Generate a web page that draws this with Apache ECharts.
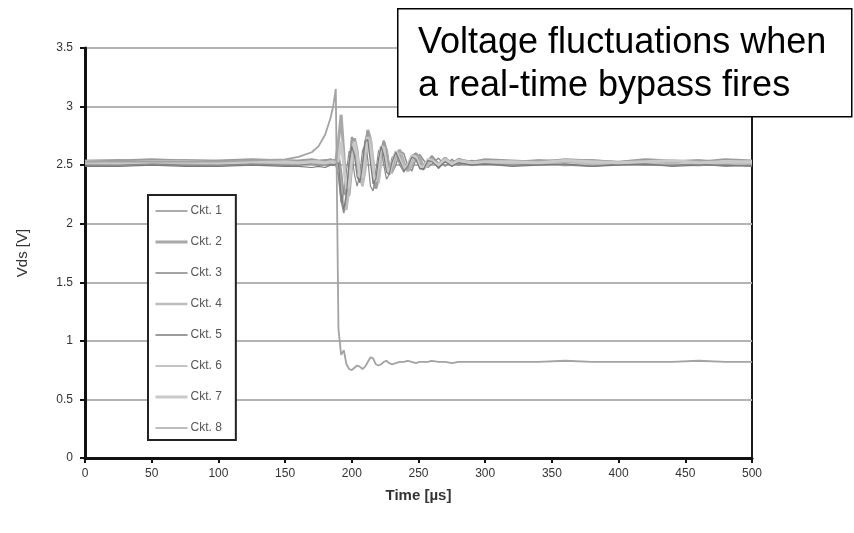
<!DOCTYPE html>
<html><head><meta charset="utf-8">
<script src="https://cdn.jsdelivr.net/npm/echarts@6/dist/echarts.min.js"></script>
<style>html,body{margin:0;padding:0;background:#fff}#c{width:854px;height:533px}</style>
</head><body><div id="c"></div>
<script>
const times = [0,25,50,75,100,125,150,160,170,175,180,184,186,188,
190,192,194,196,198,200,202,204,206,208,210,212,214,216,218,220,222,224,226,228,230,
233,236,239,242,245,248,251,254,257,260,
265,270,275,280,290,300,
320,340,360,380,400,420,440,460,480,500];

const ckt1 = [2.52,2.53,2.52,2.52,2.53,2.52,2.52,2.53,2.52,2.52,2.53,2.52,2.52,2.53,
2.45,2.2,2.09,2.2,2.5,2.7,2.68,2.5,2.38,2.45,2.65,2.76,2.66,2.45,2.33,2.4,2.58,2.68,2.64,2.5,2.43,
2.5,2.62,2.6,2.49,2.45,2.55,2.59,2.54,2.48,2.51,
2.56,2.49,2.55,2.5,2.54,2.51,
2.53,2.51,2.54,2.52,2.53,2.51,2.53,2.52,2.53,2.52];
const ckt2 = [2.53,2.54,2.53,2.54,2.53,2.54,2.54,2.53,2.54,2.53,2.54,2.53,2.54,2.53,
2.7,2.93,2.6,2.22,2.25,2.5,2.73,2.62,2.4,2.36,2.55,2.8,2.72,2.48,2.3,2.38,2.6,2.7,2.62,2.47,2.46,
2.58,2.63,2.52,2.45,2.5,2.6,2.56,2.48,2.5,2.57,
2.5,2.56,2.5,2.55,2.51,2.54,
2.52,2.54,2.53,2.54,2.52,2.54,2.53,2.54,2.52,2.53];
const ckt3 = [2.53,2.53,2.53,2.53,2.53,2.54,2.55,2.57,2.61,2.66,2.76,2.9,3.0,3.15,
1.1,0.88,0.92,0.8,0.76,0.75,0.77,0.79,0.78,0.76,0.78,0.82,0.86,0.85,0.8,0.79,0.8,0.82,0.83,0.81,0.8,
0.81,0.82,0.82,0.83,0.82,0.81,0.82,0.82,0.82,0.83,
0.82,0.82,0.81,0.82,0.82,0.82,
0.82,0.82,0.83,0.82,0.82,0.82,0.82,0.83,0.82,0.82];
const ckt4 = [2.51,2.5,2.51,2.51,2.5,2.51,2.51,2.5,2.51,2.51,2.5,2.51,2.51,2.5,
2.5,2.35,2.15,2.12,2.3,2.55,2.68,2.56,2.4,2.32,2.45,2.66,2.74,2.55,2.36,2.35,2.52,2.66,2.6,2.45,2.44,
2.56,2.6,2.5,2.46,2.52,2.58,2.53,2.47,2.5,2.55,
2.49,2.54,2.5,2.53,2.5,2.52,
2.51,2.52,2.5,2.52,2.51,2.52,2.51,2.5,2.52,2.51];
const ckt5 = [2.54,2.54,2.55,2.54,2.54,2.55,2.54,2.54,2.55,2.54,2.54,2.55,2.54,2.54,
2.6,2.45,2.25,2.28,2.48,2.74,2.7,2.48,2.37,2.48,2.7,2.79,2.62,2.4,2.3,2.45,2.62,2.71,2.6,2.46,2.45,
2.6,2.58,2.47,2.47,2.58,2.6,2.52,2.48,2.53,2.58,
2.51,2.56,2.52,2.55,2.53,2.55,
2.54,2.53,2.55,2.54,2.53,2.55,2.54,2.53,2.55,2.54];
const ckt6 = [2.5,2.5,2.51,2.5,2.5,2.51,2.5,2.5,2.51,2.5,2.5,2.51,2.5,2.5,
2.4,2.18,2.28,2.45,2.62,2.6,2.42,2.32,2.42,2.62,2.68,2.55,2.32,2.28,2.44,2.62,2.65,2.5,2.38,2.42,2.56,
2.6,2.5,2.44,2.5,2.58,2.56,2.47,2.46,2.54,2.55,
2.47,2.53,2.49,2.52,2.5,2.51,
2.5,2.51,2.5,2.49,2.51,2.5,2.5,2.51,2.49,2.5];
const ckt7 = [2.53,2.52,2.53,2.53,2.52,2.53,2.53,2.52,2.53,2.53,2.52,2.53,2.53,2.52,
2.55,2.7,2.5,2.3,2.33,2.56,2.7,2.58,2.4,2.4,2.6,2.74,2.64,2.42,2.36,2.48,2.66,2.65,2.5,2.42,2.5,
2.62,2.55,2.46,2.5,2.58,2.57,2.49,2.48,2.55,2.54,
2.5,2.55,2.51,2.54,2.52,2.53,
2.53,2.52,2.54,2.53,2.52,2.53,2.54,2.52,2.53,2.53];
const ckt8 = [2.49,2.49,2.5,2.49,2.49,2.5,2.49,2.49,2.48,2.49,2.48,2.5,2.5,2.51,
2.52,2.25,2.12,2.26,2.52,2.66,2.58,2.4,2.35,2.5,2.7,2.72,2.52,2.34,2.38,2.55,2.66,2.58,2.44,2.42,2.52,
2.61,2.53,2.45,2.49,2.57,2.55,2.47,2.47,2.54,2.53,
2.48,2.53,2.49,2.52,2.5,2.51,
2.49,2.5,2.51,2.49,2.5,2.51,2.49,2.5,2.5,2.49];

const seriesNames = ['Ckt. 1','Ckt. 2','Ckt. 3','Ckt. 4','Ckt. 5','Ckt. 6','Ckt. 7','Ckt. 8'];
const seriesValues = [ckt1,ckt2,ckt3,ckt4,ckt5,ckt6,ckt7,ckt8];
const xTicks = [0,50,100,150,200,250,300,350,400,450,500];
const yTicks = [0,0.5,1,1.5,2,2.5,3,3.5];
const titleLines = ['Voltage fluctuations when','a real-time bypass fires'];

const colors = ['#8f8f8f','#a8a8a8','#a3a3a3','#bdbdbd','#9c9c9c','#8a8a8a','#c9c9c9','#7a7a7a'];
const widths = [1.5,3,1.8,2.5,2,1.2,3,1.2];

const chart = echarts.init(document.getElementById('c'), null, {renderer:'canvas'});
const font = "'Liberation Sans Narrow','Liberation Sans',sans-serif";
const series = seriesNames.map((n,i)=>({
  name:n, type:'line', symbol:'none', showSymbol:false, animation:false,
  data: times.map((t,j)=>[t, seriesValues[i][j]]),
  lineStyle:{color:colors[i], width:widths[i]}, itemStyle:{color:colors[i]},
  z: i===2 ? 3 : 2
}));
chart.setOption({
  animation:false,
  grid:{left:85, right:102, top:48, bottom:75, show:true, borderColor:'#1a1a1a', borderWidth:2, backgroundColor:'transparent'},
  xAxis:{type:'value', min:xTicks[0], max:xTicks[xTicks.length-1], interval:50,
    name:'Time [µs]', nameLocation:'middle', nameGap:30,
    nameTextStyle:{fontFamily:font, fontSize:15, color:'#333', fontWeight:'bold'},
    axisLine:{show:true, onZero:false, lineStyle:{color:'#111', width:3}},
    axisTick:{show:true, length:5, lineStyle:{color:'#111', width:2}},
    axisLabel:{fontFamily:font, fontSize:12, color:'#333', margin:10},
    splitLine:{show:false}},
  yAxis:{type:'value', min:yTicks[0], max:yTicks[yTicks.length-1], interval:0.5,
    name:'Vds [V]', nameLocation:'middle', nameGap:55, nameRotate:90,
    nameTextStyle:{fontFamily:font, fontSize:15, color:'#333'},
    axisLine:{show:true, onZero:false, lineStyle:{color:'#111', width:3}},
    axisTick:{show:true, length:5, lineStyle:{color:'#111', width:2}},
    axisLabel:{fontFamily:font, fontSize:12, color:'#333', margin:12},
    splitLine:{show:true, lineStyle:{color:'#b3b3b3', width:2}}},
  legend:{orient:'vertical', left:148, top:195,
    backgroundColor:'#fff', borderColor:'#222', borderWidth:2,
    padding:[10,14,6,6], itemWidth:32, itemHeight:14, itemGap:19,
    itemStyle:{opacity:0},
    textStyle:{fontFamily:font, fontSize:12, color:'#555', padding:[0,0,0,-2]},
    data:seriesNames.map((n,i)=>({name:n, lineStyle:{color:colors[i], width:widths[i]}}))},
  series:series,
  graphic:[
    {type:'rect', left:397, top:8, shape:{width:454, height:108}, style:{fill:'#fff', stroke:'#000', lineWidth:1.5}, z:100},
    {type:'text', left:418, top:22, style:{text:titleLines.join('\n'), font:"36px 'Liberation Sans', Arial, sans-serif", fill:'#000', lineHeight:43}, z:101}
  ]
});
</script></body></html>
